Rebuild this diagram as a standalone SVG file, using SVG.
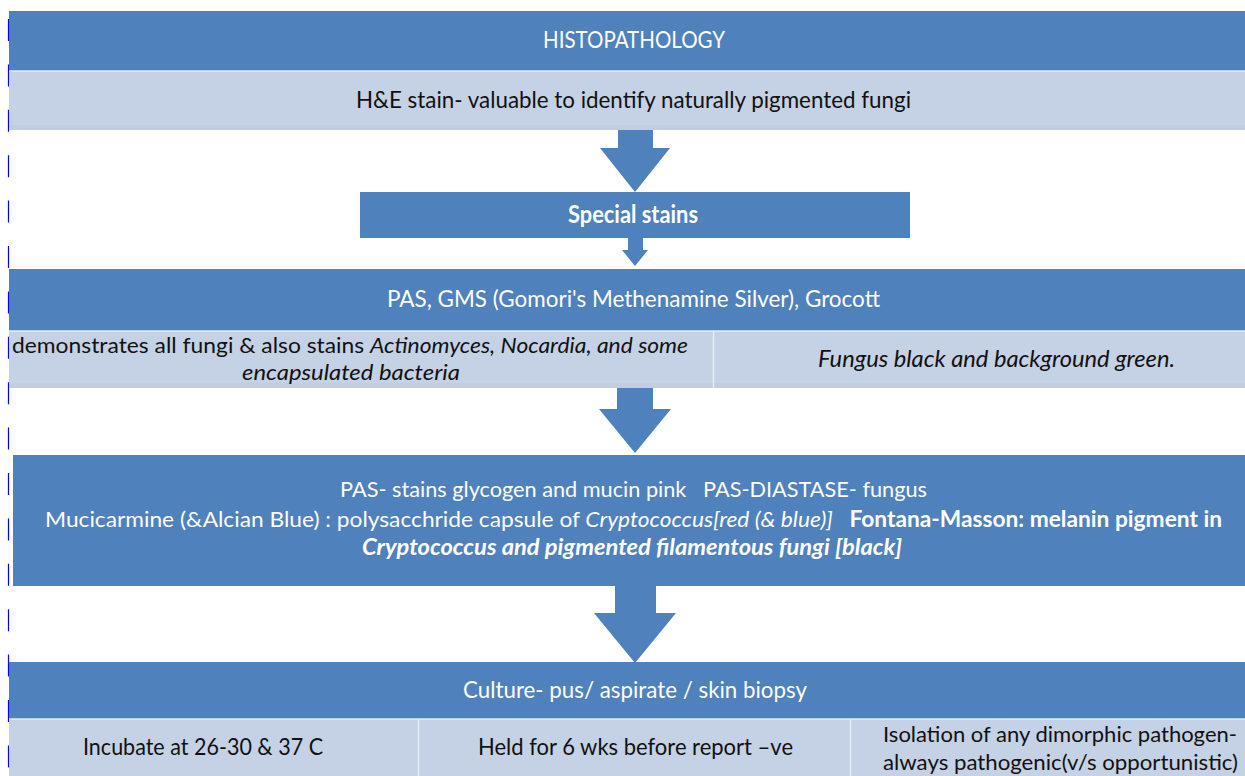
<svg xmlns="http://www.w3.org/2000/svg" width="1245" height="776" viewBox="0 0 1245 776">
<style>
.dk{fill:#4F81BD}
.lt{fill:#C5D1E5}
.band{fill:#BDC9DE}
.sep{stroke:#E6ECF5;stroke-width:1.5}
text{font-family:Lato,"Open Sans","Liberation Sans",sans-serif;font-size:24px;white-space:pre}
.sm{font-size:22px}
.w{fill:#FFFFFF}
.b{fill:#111111}
.m{text-anchor:middle}
.i{font-style:italic}
.bd{font-weight:bold}
.arrow{fill:#4F81BD}
</style>
<rect x="0" y="0" width="1245" height="776" fill="#FFFFFF"/>
<line x1="8.5" y1="19" x2="8.5" y2="776" stroke="#0000FF" stroke-width="1.2" stroke-dasharray="22 23.4"/>

<g id="histopathology">
<rect class="dk" x="9" y="11" width="1236" height="60"/>
<text class="w m" x="634" y="48" textLength="182" lengthAdjust="spacingAndGlyphs">HISTOPATHOLOGY</text>
</g>
<g id="he-stain">
<rect class="lt" x="9" y="71" width="1236" height="59"/>
<rect class="band" x="9" y="125" width="1236" height="5" opacity="0.5"/>
<line class="sep" x1="9" y1="71" x2="1245" y2="71"/>
<text class="b m" x="633.5" y="108" textLength="555" lengthAdjust="spacingAndGlyphs">H&amp;E stain- valuable to identify naturally pigmented fungi</text>
</g>
<g id="special-stains">
<rect class="dk" x="360" y="192" width="550" height="46"/>
<text class="w m bd" x="633" y="223" textLength="130" lengthAdjust="spacingAndGlyphs">Special stains</text>
</g>
<g id="pas-gms">
<rect class="dk" x="9" y="269" width="1236" height="62"/>
<text class="w m" x="633.5" y="307" textLength="493" lengthAdjust="spacingAndGlyphs">PAS, GMS (Gomori's Methenamine Silver), Grocott</text>
</g>
<g id="pas-gms-left">
<rect class="lt" x="9" y="331" width="704" height="57"/>
<rect class="band" x="9" y="383" width="704" height="5" opacity="0.5"/>
<text class="b m sm" x="350" y="353" textLength="676" lengthAdjust="spacingAndGlyphs">demonstrates all fungi &amp; also stains <tspan class="i">Actinomyces, Nocardia, and some</tspan></text>
<text class="b m i sm" x="351" y="380" textLength="218" lengthAdjust="spacingAndGlyphs">encapsulated bacteria</text>
</g>
<g id="pas-gms-right">
<rect class="lt" x="714" y="331" width="531" height="57"/>
<rect class="band" x="714" y="383" width="531" height="5" opacity="0.5"/>
<text class="b m i" x="996.5" y="367" textLength="357" lengthAdjust="spacingAndGlyphs">Fungus black and background green.</text>
</g>
<line class="sep" x1="9" y1="331" x2="1245" y2="331"/>
<line class="sep" x1="713.5" y1="331" x2="713.5" y2="388"/>
<g id="other-stains">
<rect class="dk" x="13" y="455" width="1232" height="131"/>
<text class="w m sm" x="633.5" y="497" textLength="587" lengthAdjust="spacingAndGlyphs">PAS- stains glycogen and mucin pink   PAS-DIASTASE- fungus</text>
<text class="w m sm" x="633.5" y="527" textLength="1177" lengthAdjust="spacingAndGlyphs">Mucicarmine (&amp;Alcian Blue) : polysacchride capsule of <tspan class="i">Cryptococcus[red (&amp; blue)]</tspan><tspan class="bd">   Fontana-Masson: melanin pigment in</tspan></text>
<text class="w m i bd sm" x="632" y="555" textLength="540" lengthAdjust="spacingAndGlyphs">Cryptococcus and pigmented filamentous fungi [black]</text>
</g>
<g id="culture">
<rect class="dk" x="9" y="662" width="1236" height="57"/>
<text class="w m" x="635" y="698" textLength="344" lengthAdjust="spacingAndGlyphs">Culture- pus/ aspirate / skin biopsy</text>
</g>
<g id="incubate">
<rect class="lt" x="9" y="719" width="409" height="57"/>
<text class="b m" x="203" y="755" textLength="240" lengthAdjust="spacingAndGlyphs">Incubate at 26-30 &amp; 37 C</text>
</g>
<g id="held">
<rect class="lt" x="419" y="719" width="431" height="57"/>
<text class="b m" x="635.5" y="755" textLength="315" lengthAdjust="spacingAndGlyphs">Held for 6 wks before report –ve</text>
</g>
<g id="isolation">
<rect class="lt" x="851" y="719" width="394" height="57"/>
<text class="b sm" x="883" y="742" textLength="354" lengthAdjust="spacingAndGlyphs">Isolation of any dimorphic pathogen-</text>
<text class="b sm" x="883" y="770" textLength="355" lengthAdjust="spacingAndGlyphs">always pathogenic(v/s opportunistic)</text>
</g>
<line class="sep" x1="9" y1="719" x2="1245" y2="719"/>
<line class="sep" x1="418.5" y1="719" x2="418.5" y2="776"/>
<line class="sep" x1="850.5" y1="719" x2="850.5" y2="776"/>

<g id="connectors">
<polygon class="arrow" points="618,130 653,130 653,148 670,148 635,192 600,148 618,148"/>
<polygon class="arrow" points="628,238 643,238 643,250 648,250 635,266 622,250 628,250"/>
<polygon class="arrow" points="617,388 653,388 653,409 671,409 635,453 599,409 617,409"/>
<polygon class="arrow" points="615,586 656,586 656,613 676,613 635,663 594,613 615,613"/>
</g>
</svg>
